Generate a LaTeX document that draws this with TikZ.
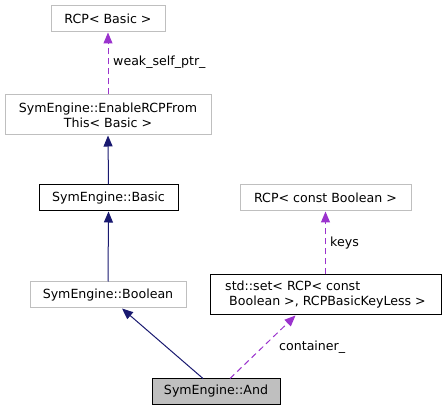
\documentclass[tikz,border=0pt]{standalone}
\usepackage{fontspec}
\setmainfont{DejaVu Sans}
\usetikzlibrary{arrows.meta,calc}
\definecolor{edgegray}{HTML}{BFBFBF}
\definecolor{navyedge}{HTML}{191970}
\definecolor{purpedge}{HTML}{9A32CD}
\begin{document}
\begin{tikzpicture}[x=1pt,y=-1pt,
  every node/.style={font=\fontsize{12.6}{15}\selectfont, inner sep=0pt},
  cls/.style={draw=edgegray, line width=1pt, fill=white, minimum height=26pt},
  clsb/.style={draw=black, line width=1pt, fill=white, minimum height=26pt},
  inh/.style={draw=navyedge, line width=1pt, -{Triangle[width=9pt,length=11pt]}},
  use/.style={draw=purpedge, line width=1pt, dash pattern=on 6pt off 4pt, -{Triangle[width=9pt,length=11pt]}},
  lbl/.style={anchor=west, font=\fontsize{12.6}{15}\selectfont}]
\useasboundingbox (0,0) rectangle (447,411);
\node[cls, minimum width=114pt] (rcpb) at (108,19) {RCP< Basic >};
\node[cls, minimum width=206pt, minimum height=40pt, align=center] (enable) at (108,115) {SymEngine::EnableRCPFrom\\This< Basic >};
\node[clsb, minimum width=139pt] (basic) at (108.5,198) {SymEngine::Basic};
\node[cls, minimum width=156pt] (bool) at (108,295) {SymEngine::Boolean};
\node[cls, minimum width=171pt] (rcpcb) at (325.5,198) {RCP< const Boolean >};
\node[clsb, minimum width=231pt, minimum height=40pt, align=left] (set) at (325.5,295) {std::set< RCP< const\\\hspace{4pt}Boolean >, RCPBasicKeyLess >};
\node[clsb, fill=edgegray, minimum width=128pt, minimum height=25pt] (and) at (216,391.5) {SymEngine::And};
\draw[use] (enable.north) -- (rcpb.south);
\draw[inh] (basic.north) -- (enable.south);
\draw[inh] (bool.north) -- (basic.south);
\draw[inh] ($(and.north)+(-13,0)$) -- ($(bool.south)+(14,0)$);
\draw[use] (set.north) -- (rcpcb.south);
\draw[use] ($(and.north)+(14,0)$) -- ($(set.south)+(-30,0)$);
\node[lbl] (l1) at (113,62) {weak\_self\_ptr\_};
\node[lbl] (l2) at (330,243) {keys};
\node[lbl] (l3) at (279,347) {container\_};
\end{tikzpicture}
\end{document}
